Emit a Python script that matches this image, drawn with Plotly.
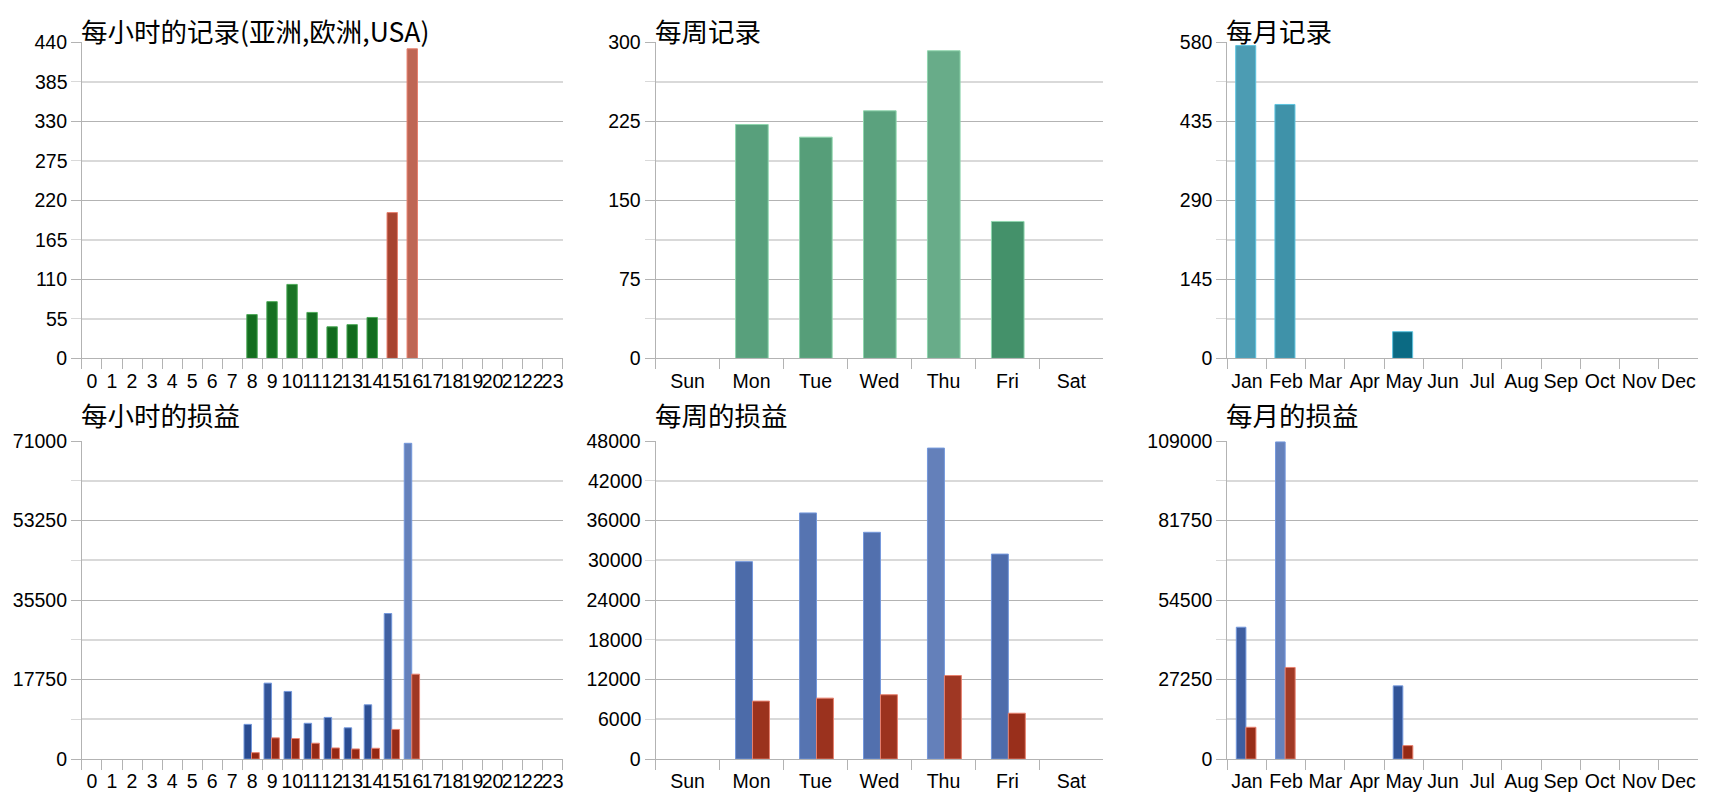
import plotly.graph_objects as go

# ---- data ----
hours = ["0", "1", "2", "3", "4", "5", "6", "7", "8", "9", "10", "11",
         "12", "13", "14", "15", "16", "17", "18", "19", "20", "21", "22", "23"]
weekdays = ["Sun", "Mon", "Tue", "Wed", "Thu", "Fri", "Sat"]
months = ["Jan", "Feb", "Mar", "Apr", "May", "Jun",
          "Jul", "Aug", "Sep", "Oct", "Nov", "Dec"]

# hourly record counts (green = Asia/Europe session, red = USA session)
hour_rec_green = [None, None, None, None, None, None, None, None,
                  61, 79, 103, 64, 44, 47, 57, None,
                  None, None, None, None, None, None, None, None]
hour_rec_red = [None, None, None, None, None, None, None, None,
                None, None, None, None, None, None, None, 203,
                431, None, None, None, None, None, None, None]

week_rec = [None, 222, 210, 235, 292, 130, None]
month_rec = [574, 466, None, None, 49, None, None, None, None, None, None, None]

# profit / loss (blue, red)
hour_pnl_blue = [None, None, None, None, None, None, None, None,
                 7750, 16950, 15100, 7990, 9300, 6980, 12120, 32500,
                 70500, None, None, None, None, None, None, None]
hour_pnl_red = [None, None, None, None, None, None, None, None,
                1430, 4740, 4590, 3540, 2480, 2260, 2410, 6620,
                18950, None, None, None, None, None, None, None]

week_pnl_blue = [None, 29800, 37150, 34230, 46940, 30940, None]
week_pnl_red = [None, 8750, 9200, 9710, 12610, 6920, None]

month_pnl_blue = [45200, 108700, None, None, 25100, None, None, None, None, None, None, None]
month_pnl_red = [10900, 31400, None, None, 4620, None, None, None, None, None, None, None]

# ---- styling ----
W, H = 1720, 800
DARK_GRID = "#b3b3b3"
LIGHT_GRID = "#d9d9d9"
TICK_FONT = dict(family="Liberation Sans, Arial, sans-serif", size=19.5, color="#000000")
TITLE_FONT = dict(family="Noto Sans CJK SC, sans-serif", size=26.5, color="#000000")

GREEN_DARK = [[0, "#0b6516"], [1, "#8ae59a"]]
RED = [[0, "#932611"], [1, "#eba899"]]
SEA = [[0, "#277b51"], [1, "#acdfc4"]]
TEAL = [[0, "#05657f"], [1, "#95d5e8"]]
BLUE = [[0, "#23468c"], [1, "#a8bceb"]]

# plot-area edges in pixels
col_x = [(74, 555), (648, 1096), (1220, 1691)]
row_y = [(24, 349), (434, 761)]
title_y = [12, 407]


def xdom(c):
    return [col_x[c][0] / W, col_x[c][1] / W]


def ydom(r):
    return [1 - row_y[r][1] / H, 1 - row_y[r][0] / H]


def bar(x, y, cs, ymax, line, ax, width, offset=None):
    # colour of each bar = gradient colour at half its height
    shade = [v if v is not None else 0 for v in y]
    return go.Bar(
        x=x, y=y, xaxis="x" + ax, yaxis="y" + ax,
        width=width, offset=offset,
        marker=dict(color=shade, colorscale=cs, cmin=0, cmax=2 * ymax,
                    line=dict(color=line, width=1)),
        showlegend=False, hoverinfo="x+y",
    )


fig = go.Figure()

# panel 1: 每小时的记录
fig.add_trace(bar(hours, hour_rec_green, GREEN_DARK, 440, "#4daa58", "", 0.52, -0.27))
fig.add_trace(bar(hours, hour_rec_red, RED, 440, "#e8806e", "", 0.52, -0.27))
# panel 2: 每周记录
fig.add_trace(bar(weekdays, week_rec, SEA, 300, "#8fd6ae", "2", 0.51, -0.25))
# panel 3: 每月记录
fig.add_trace(bar(months, month_rec, TEAL, 580, "#5cc3df", "3", 0.51, -0.285))
# panel 4: 每小时的损益
fig.add_trace(bar(hours, hour_pnl_blue, BLUE, 71000, "#7498dc", "4", 0.375, -0.41))
fig.add_trace(bar(hours, hour_pnl_red, RED, 71000, "#e8806e", "4", 0.39, -0.035))
# panel 5: 每周的损益
fig.add_trace(bar(weekdays, week_pnl_blue, BLUE, 48000, "#7498dc", "5", 0.265, -0.25))
fig.add_trace(bar(weekdays, week_pnl_red, RED, 48000, "#e8806e", "5", 0.265, 0.015))
# panel 6: 每月的损益
fig.add_trace(bar(months, month_pnl_blue, BLUE, 109000, "#7498dc", "6", 0.245, -0.27))
fig.add_trace(bar(months, month_pnl_red, RED, 109000, "#e8806e", "6", 0.255, -0.025))

panels = [
    # (axis suffix, col, row, ymax, labelled dark lines, light lines, light lines labelled?)
    ("", 0, 0, 440, [0, 110, 220, 330, 440], [55, 165, 275, 385], True),
    ("2", 1, 0, 300, [0, 75, 150, 225, 300], [37.5, 112.5, 187.5, 262.5], False),
    ("3", 2, 0, 580, [0, 145, 290, 435, 580], [72.5, 217.5, 362.5, 507.5], False),
    ("4", 0, 1, 71000, [0, 17750, 35500, 53250, 71000], [8875, 26625, 44375, 62125], False),
    ("5", 1, 1, 48000, [0, 12000, 24000, 36000, 48000], [6000, 18000, 30000, 42000], True),
    ("6", 2, 1, 109000, [0, 27250, 54500, 81750, 109000], [13625, 40875, 68125, 95375], False),
]

layout_axes = {}
annotations = []
for sfx, c, r, ymax, major, minor, label_minor in panels:
    layout_axes["xaxis" + sfx] = dict(
        domain=xdom(c), anchor="y" + sfx, type="category",
        tickmode="linear", tick0=0, dtick=1, tickangle=0,
        tickson="boundaries", ticks="outside", ticklen=10, tickcolor=DARK_GRID,
        ticklabelstandoff=5,
        showline=True, linecolor=DARK_GRID, linewidth=1,
        showgrid=False, zeroline=False, tickfont=TICK_FONT, fixedrange=True,
    )
    layout_axes["yaxis" + sfx] = dict(
        domain=ydom(r), anchor="x" + sfx, range=[0, ymax],
        tickmode="array", tickvals=major, ticktext=[str(v) for v in major],
        ticks="outside", ticklen=10, tickcolor=DARK_GRID,
        showline=True, linecolor=DARK_GRID, linewidth=1,
        showgrid=True, gridcolor=DARK_GRID, gridwidth=1, zeroline=False,
        minor=dict(tickmode="array", tickvals=minor, showgrid=True,
                   gridcolor=LIGHT_GRID, gridwidth=2,
                   ticks="outside", ticklen=10, tickcolor=LIGHT_GRID),
        tickfont=TICK_FONT, fixedrange=True,
    )
    if label_minor:
        # the in-between lines carry labels too on these two panels
        for v in minor:
            annotations.append(dict(
                text=str(v), xref="x" + sfx + " domain", yref="y" + sfx,
                x=0, y=v, xanchor="right", yanchor="middle", xshift=-12,
                showarrow=False, font=TICK_FONT,
            ))

titles = [
    ("每小时的记录(亚洲,欧洲,USA)", 0, 0),
    ("每周记录", 1, 0),
    ("每月记录", 2, 0),
    ("每小时的损益", 0, 1),
    ("每周的损益", 1, 1),
    ("每月的损益", 2, 1),
]
for text, c, r in titles:
    annotations.append(dict(
        text=text, xref="paper", yref="paper",
        x=(col_x[c][0] - 3) / W, y=1 - title_y[r] / H,
        xanchor="left", yanchor="middle", showarrow=False, font=TITLE_FONT,
    ))

fig.update_layout(
    width=W, height=H,
    margin=dict(l=0, r=0, t=0, b=0),
    paper_bgcolor="white", plot_bgcolor="white",
    barmode="overlay",
    annotations=annotations,
    **layout_axes,
)

fig.write_html("out.html")
